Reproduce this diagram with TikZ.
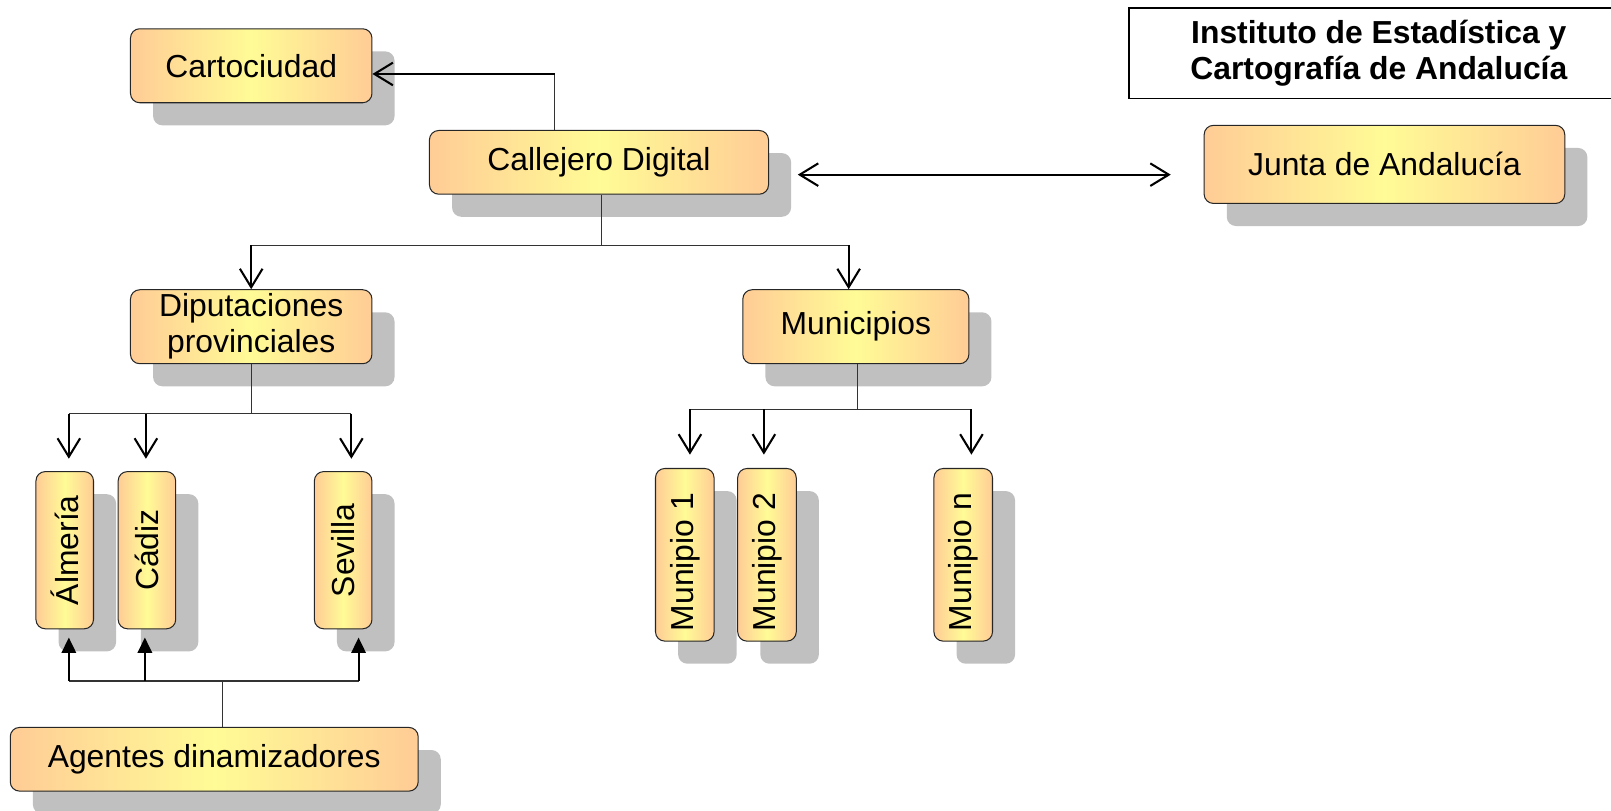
\documentclass[tikz,border=0pt]{standalone}
\usepackage{fontspec}
\setmainfont{Liberation Sans}
\usepackage{graphicx}
\usetikzlibrary{arrows.meta,shadows,positioning,calc}
\definecolor{boxedge}{RGB}{255,204,150}
\definecolor{boxmid}{RGB}{255,251,150}
\definecolor{shadowgray}{RGB}{192,192,192}

\begin{document}
\begin{tikzpicture}[x=1pt, y=-1pt,
    >={Straight Barb[length=18pt,width=22pt]},
    box/.style={rectangle, rounded corners=9pt, draw=black!85, line width=1pt,
                left color=boxedge, right color=boxedge, middle color=boxmid,
                general shadow={fill=shadowgray, shadow xshift=22pt, shadow yshift=-22pt},
                align=center, font=\fontsize{31}{35}\selectfont, inner sep=2pt},
    provbox/.style={box, minimum width=56pt, minimum height=153pt},
    munibox/.style={box, minimum width=57pt, minimum height=168pt},
    title/.style={rectangle, draw=black, line width=1.5pt, fill=white, align=center,
                  minimum width=486pt, minimum height=88pt,
                  font=\fontsize{31}{35}\selectfont\bfseries},
    stem/.style={line width=1pt, black!80},
    arrow/.style={->, line width=2pt},
    biarrow/.style={<->, line width=2pt},
    uparrow/.style={-{Triangle[length=15pt,width=14pt]}, line width=2pt}
]
    \useasboundingbox (0,0) rectangle (1568,789);

    \node[title] (ieca) at (1342,52) {Instituto de Estadística y\\Cartografía de Andalucía};

    \node[box, minimum width=235pt, minimum height=72pt] (carto) at (244.5,64) {Cartociudad};
    \node[box, minimum width=330pt, minimum height=62pt] (calle) at (583,158) {Callejero Digital};
    \node[box, minimum width=351pt, minimum height=76pt] (junta) at (1347.5,160) {Junta de Andalucía};
    \node[box, minimum width=235pt, minimum height=72pt] (dip) at (244.5,318) {Diputaciones\\provinciales};
    \node[box, minimum width=220pt, minimum height=72pt] (muni) at (833,318) {Municipios};

    \node[provbox] (alm) at (63,535.5) {\rotatebox{90}{Álmería}};
    \node[provbox] (cad) at (143,535.5) {\rotatebox{90}{Cádiz}};
    \node[provbox] (sev) at (334,535.5) {\rotatebox{90}{Sevilla}};

    \node[munibox] (m1) at (666.5,540) {\rotatebox{90}{Munipio 1\hspace{14pt}}};
    \node[munibox] (m2) at (746.5,540) {\rotatebox{90}{Munipio 2\hspace{14pt}}};
    \node[munibox] (mn) at (937.5,540) {\rotatebox{90}{Munipio n\hspace{14pt}}};

    \node[box, minimum width=397pt, minimum height=62pt] (agentes) at (208.5,739) {Agentes dinamizadores};

    \coordinate (cartobend) at (540,72);
    \draw[stem] (calle.north -| cartobend) -- (cartobend);
    \draw[arrow] (cartobend) -- (carto.east |- cartobend);

    \draw[biarrow, shorten <=28pt, shorten >=32pt]
        ([yshift=-12pt]calle.east) -- ([yshift=-12pt]calle.east -| junta.west);

    \draw[stem] ([xshift=2pt]calle.south) -- ++(0,49) coordinate (callejoin);
    \draw[stem] (dip.north |- callejoin) -- ([xshift=-7pt]muni.north |- callejoin);
    \draw[arrow] (dip.north |- callejoin) -- (dip.north);
    \draw[arrow] ([xshift=-7pt]muni.north |- callejoin) -- ([xshift=-7pt]muni.north);

    \draw[stem] (dip.south) -- ++(0,48) coordinate (dipjoin);
    \draw[stem] ([xshift=4pt]alm.north |- dipjoin) -- ([xshift=8pt]sev.north |- dipjoin);
    \foreach \k/\dx in {alm/4,cad/-1,sev/8}
        \draw[arrow, shorten >=12pt] ([xshift=\dx pt]\k.north |- dipjoin) -- ([xshift=\dx pt]\k.north);

    \draw[stem] ([xshift=2pt]muni.south) -- ++(0,44) coordinate (munijoin);
    \draw[stem] ([xshift=5pt]m1.north |- munijoin) -- ([xshift=8pt]mn.north |- munijoin);
    \foreach \k/\dx in {m1/5,m2/-3,mn/8}
        \draw[arrow, shorten >=13pt] ([xshift=\dx pt]\k.north |- munijoin) -- ([xshift=\dx pt]\k.north);

    \draw[stem] ([xshift=8pt]agentes.north) -- ++(0,-45) coordinate (agjoin);
    \draw[stem, line width=2pt] ([xshift=4pt]alm.south |- agjoin) -- ([xshift=15pt]sev.south |- agjoin);
    \foreach \k/\dx in {alm/4,cad/-2,sev/15}
        \draw[uparrow, shorten >=8pt] ([xshift=\dx pt]\k.south |- agjoin) -- ([xshift=\dx pt]\k.south);
\end{tikzpicture}
\end{document}
